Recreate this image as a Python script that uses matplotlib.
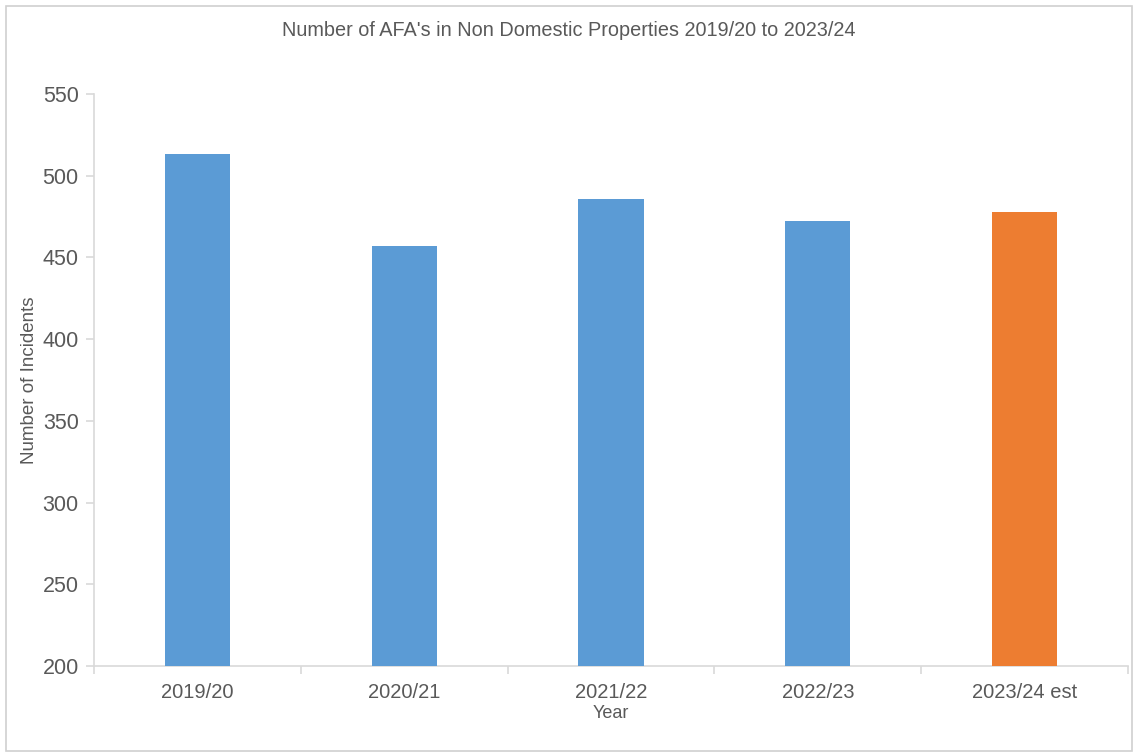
import matplotlib
matplotlib.use("Agg")
import matplotlib.pyplot as plt
from matplotlib.patches import Rectangle

# Yearly counts of automatic fire alarm incidents in non-domestic properties
years = ["2019/20", "2020/21", "2021/22", "2022/23", "2023/24 est"]
incidents = [513, 457, 486, 472, 478]
bar_colors = ["#5B9BD5", "#5B9BD5", "#5B9BD5", "#5B9BD5", "#ED7D31"]
y_ticks = [200, 250, 300, 350, 400, 450, 500, 550]

plt.rcParams["font.family"] = ["Liberation Sans", "DejaVu Sans"]
text_color = "#595959"
axis_color = "#D9D9D9"

W, H = 1137, 754
fig = plt.figure(figsize=(W / 100, H / 100), dpi=100)

# Outer chart frame
fig.add_artist(Rectangle((6 / W, 3 / H), 1126 / W, 745 / H, transform=fig.transFigure,
                         fill=False, edgecolor="#D0D0D0", linewidth=1.2))

left, right, top, bottom = 94, 1128, 94, 666
ax = fig.add_axes([left / W, 1 - bottom / H, (right - left) / W, (bottom - top) / H])

x = list(range(len(years)))
ax.bar(x, incidents, width=0.315, color=bar_colors, zorder=3)

ax.set_xlim(-0.5, len(years) - 0.5)
ax.set_ylim(200, 550)
ax.set_yticks(y_ticks)
ax.set_yticklabels([str(v) for v in y_ticks], fontsize=15.5, color=text_color)

ax.set_xticks(x)
ax.set_xticklabels(years, fontsize=14.5, color=text_color)
ax.tick_params(axis="x", length=0, pad=12)
ax.set_xticks([i - 0.5 for i in range(len(years) + 1)], minor=True)
ax.tick_params(axis="x", which="minor", length=6, color=axis_color, width=1.2)
ax.tick_params(axis="y", length=6, color=axis_color, width=1.2, pad=5)

for s in ["top", "right"]:
    ax.spines[s].set_visible(False)
for s in ["left", "bottom"]:
    ax.spines[s].set_color(axis_color)
    ax.spines[s].set_linewidth(1.2)

ax.set_xlabel("Year", fontsize=13, color=text_color)
ax.xaxis.set_label_coords(0.5, -(713 - 666) / (bottom - top))
ax.xaxis.label.set_va("center")
ax.set_ylabel("Number of Incidents", fontsize=13.5, color=text_color)
ax.yaxis.set_label_coords(-(94 - 30) / (right - left), 0.5)
ax.yaxis.label.set_va("center")

fig.text(0.5, 1 - 30 / H, "Number of AFA's in Non Domestic Properties 2019/20 to 2023/24",
         ha="center", va="center", fontsize=14.3, color=text_color)

fig.savefig("out.png", dpi=100)
